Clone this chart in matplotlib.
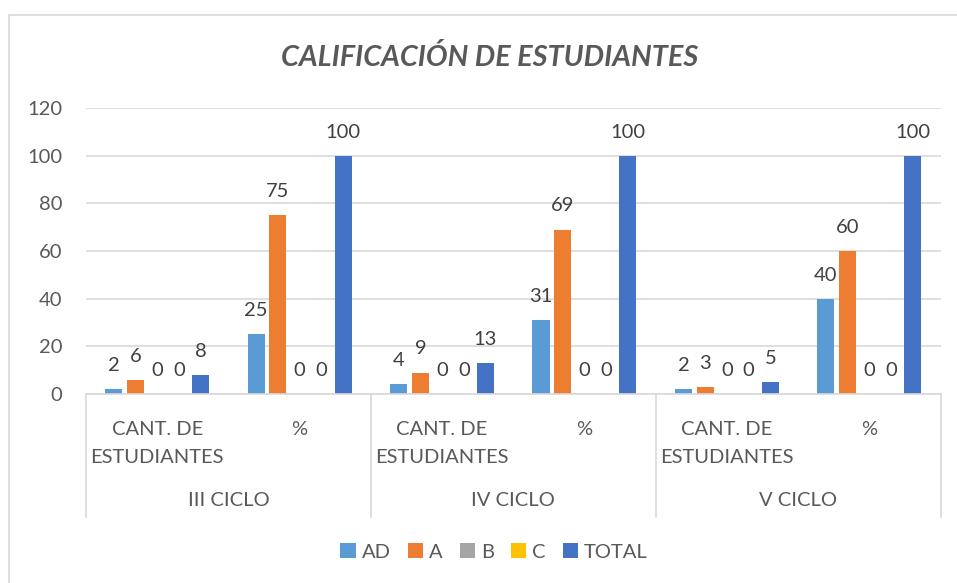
import matplotlib
matplotlib.use("Agg")
import matplotlib.pyplot as plt
from matplotlib.patches import Rectangle, Patch
from matplotlib.transforms import blended_transform_factory
import numpy as np

plt.rcParams['font.family'] = ['Lato', 'DejaVu Sans']

groups = ["III CICLO", "IV CICLO", "V CICLO"]
subcats = ["CANT. DE\nESTUDIANTES", "%"]
series_names = ["AD", "A", "B", "C", "TOTAL"]
AD = [2, 25, 4, 31, 2, 40]
A = [6, 75, 9, 69, 3, 60]
B = [0, 0, 0, 0, 0, 0]
C = [0, 0, 0, 0, 0, 0]
TOTAL = [8, 100, 13, 100, 5, 100]
series_values = [AD, A, B, C, TOTAL]
colors = ["#5B9BD5", "#ED7D31", "#A5A5A5", "#FFC000", "#4472C4"]

FS = 14.5
W, H = 957, 583
fig = plt.figure(figsize=(W / 100, H / 100), dpi=100)
fig.patch.set_facecolor("white")

# chart border (extends beyond right/bottom of image)
fig.patches.append(Rectangle((9 / W, -0.05), 1.1, 1 - 15 / H + 0.05, transform=fig.transFigure,
                             fill=False, edgecolor="#D9D9D9", linewidth=1.2, zorder=0))

L, R, T, B0 = 86, 940.5, 108, 394
ax = fig.add_axes([L / W, 1 - B0 / H, (R - L) / W, (B0 - T) / H])
ax.set_ylim(0, 120)
ax.set_xlim(-0.5, 5.5)
ax.set_yticks(range(0, 121, 20))
ax.grid(axis="y", color="#D9D9D9", linewidth=1.2)
ax.set_axisbelow(True)
for s in ["top", "right", "left"]:
    ax.spines[s].set_visible(False)
ax.spines["bottom"].set_color("#D9D9D9")
ax.spines["bottom"].set_linewidth(1.2)
ax.tick_params(axis="y", length=0, labelsize=FS, labelcolor="#595959", pad=17)

x = np.arange(6)
slot = 0.1525
bw = 0.12
for i, (name, vals, c) in enumerate(zip(series_names, series_values, colors)):
    pos = x + (i - 2) * slot
    ax.bar(pos, vals, width=bw, color=c, label=name, zorder=2)
    for px, v in zip(pos, vals):
        ax.annotate(f"{v}", (px, v), xytext=(0, 17), textcoords="offset points",
                    ha="center", va="center", fontsize=FS, color="#404040")

labels = subcats * 3
ax.set_xticks(x)
ax.set_xticklabels(labels, fontsize=FS, color="#595959", va="top")
for t in ax.get_xticklabels():
    t.set_linespacing(1.8)
ax.tick_params(axis="x", length=0, pad=19.5)

trans = blended_transform_factory(ax.transData, ax.transAxes)
axh = B0 - T
sep_bottom = -(517 - B0) / axh
for xs in [-0.5, 1.5, 3.5, 5.5]:
    ax.plot([xs, xs], [0, sep_bottom], transform=trans, color="#D9D9D9",
            linewidth=1.2, clip_on=False)
for gi, g in enumerate(groups):
    ax.text(gi * 2 + 0.5, -(501 - B0) / axh, g, transform=trans, ha="center", va="center",
            fontsize=FS, color="#595959")

fig.text(490 / W, 1 - 57 / H, "CALIFICACIÓN DE ESTUDIANTES", ha="center", va="center",
         fontsize=20.8, fontweight="bold", fontstyle="italic", color="#595959")

handles = [Patch(facecolor=c, label=n) for n, c in zip(series_names, colors)]
leg = fig.legend(handles=handles, loc="center", bbox_to_anchor=(494 / W, 1 - 552 / H),
                 ncol=5, frameon=False, fontsize=FS, handlelength=0.75, handleheight=0.75,
                 handletextpad=0.3, columnspacing=0.85)
for t in leg.get_texts():
    t.set_color("#595959")

fig.savefig("out.png", dpi=100)
